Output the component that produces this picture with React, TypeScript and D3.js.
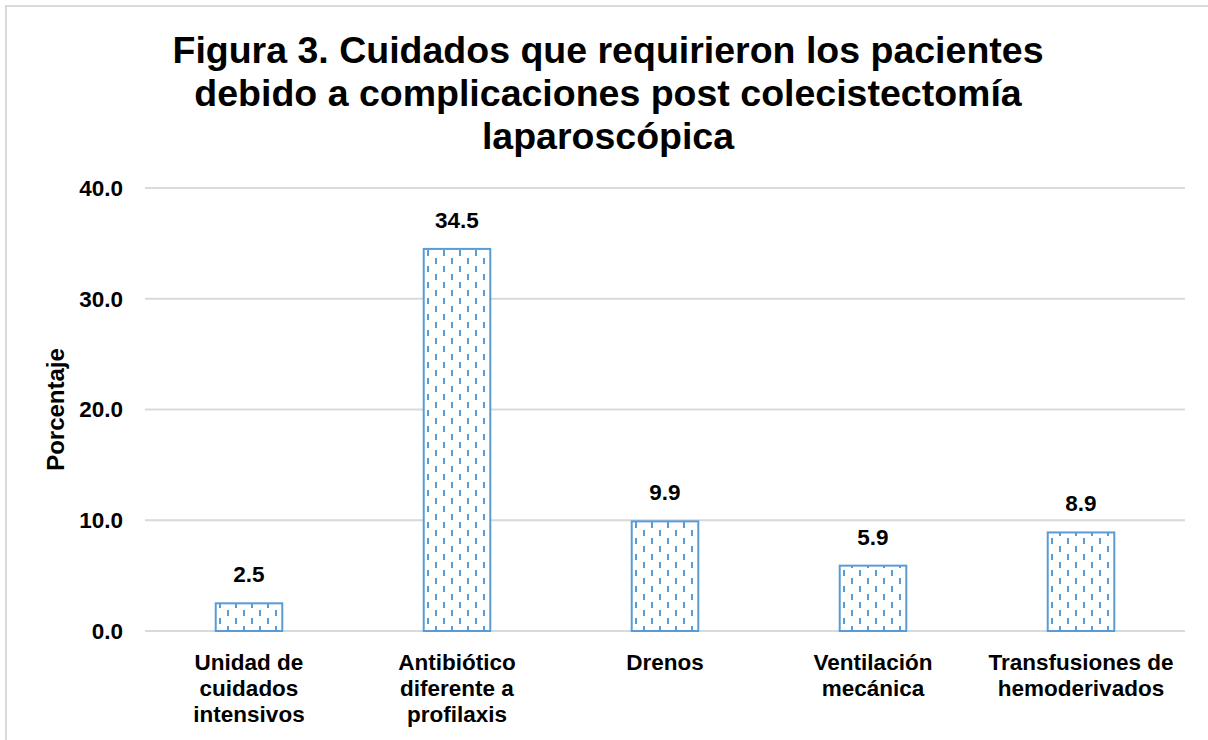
import { useRef, useEffect } from "react";
import * as d3 from "d3";

const categories = [
  ["Unidad de", "cuidados", "intensivos"],
  ["Antibiótico", "diferente a", "profilaxis"],
  ["Drenos"],
  ["Ventilación", "mecánica"],
  ["Transfusiones de", "hemoderivados"],
];
const values = [2.5, 34.5, 9.9, 5.9, 8.9];
const yTicks = [0, 10, 20, 30, 40];
const titleLines = [
  "Figura 3. Cuidados que requirieron los pacientes",
  "debido a complicaciones post colecistectomía",
  "laparoscópica",
];

const App = () => {
  const svgRef = useRef<SVGSVGElement>(null);

  useEffect(() => {
    const svg = d3.select(svgRef.current);
    svg.selectAll("*").remove();

    const width = 1208;
    const height = 740;
    const margin = { top: 188, right: 23, bottom: 109, left: 145 };
    const font = "Liberation Sans, Arial, sans-serif";
    const blue = "#5b9bd5";

    // frame
    svg
      .append("rect")
      .attr("x", 6)
      .attr("y", 6)
      .attr("width", width + 10)
      .attr("height", height + 10)
      .attr("fill", "#fff")
      .attr("stroke", "#d9d9d9")
      .attr("stroke-width", 2);

    // dashed pattern
    const pat = svg
      .append("defs")
      .append("pattern")
      .attr("id", "dashes")
      .attr("patternUnits", "userSpaceOnUse")
      .attr("width", 16)
      .attr("height", 16);
    pat.append("rect").attr("width", 16).attr("height", 16).attr("fill", "#fff");
    pat
      .append("rect")
      .attr("x", 3)
      .attr("y", 2)
      .attr("width", 2)
      .attr("height", 6)
      .attr("fill", blue);
    pat
      .append("rect")
      .attr("x", 11)
      .attr("y", 10)
      .attr("width", 2)
      .attr("height", 6)
      .attr("fill", blue);

    const x = d3
      .scaleBand()
      .domain(categories.map((_, i) => String(i)))
      .range([margin.left, width - margin.right])
      .paddingInner(0.68)
      .paddingOuter(0.34);
    const y = d3
      .scaleLinear()
      .domain([0, 40])
      .range([height - margin.bottom, margin.top]);

    // title
    svg
      .append("text")
      .attr("text-anchor", "middle")
      .attr("font-family", font)
      .attr("font-weight", "bold")
      .attr("font-size", 37.5)
      .attr("fill", "#000")
      .selectAll("tspan")
      .data(titleLines)
      .join("tspan")
      .attr("x", 608)
      .attr("y", (_, i) => 63 + i * 43)
      .text((d) => d);

    // grid
    svg
      .append("g")
      .selectAll("line")
      .data(yTicks)
      .join("line")
      .attr("x1", margin.left)
      .attr("x2", width - margin.right)
      .attr("y1", (d) => y(d))
      .attr("y2", (d) => y(d))
      .attr("stroke", "#d9d9d9")
      .attr("stroke-width", 2);

    svg
      .append("g")
      .selectAll("text")
      .data(yTicks)
      .join("text")
      .attr("x", 123)
      .attr("y", (d) => y(d))
      .attr("dy", "0.35em")
      .attr("text-anchor", "end")
      .attr("font-family", font)
      .attr("font-weight", "bold")
      .attr("font-size", 22.5)
      .text((d) => d.toFixed(1));

    svg
      .append("text")
      .attr("transform", `translate(64,${y(20)}) rotate(-90)`)
      .attr("text-anchor", "middle")
      .attr("font-family", font)
      .attr("font-weight", "bold")
      .attr("font-size", 24)
      .text("Porcentaje");

    // bars
    svg
      .append("g")
      .selectAll("rect")
      .data(values)
      .join("rect")
      .attr("x", (_, i) => x(String(i))!)
      .attr("y", (d) => y(d))
      .attr("width", x.bandwidth())
      .attr("height", (d) => y(0) - y(d))
      .attr("fill", "url(#dashes)")
      .attr("stroke", blue)
      .attr("stroke-width", 2);

    svg
      .append("g")
      .selectAll("text")
      .data(values)
      .join("text")
      .attr("x", (_, i) => x(String(i))! + x.bandwidth() / 2)
      .attr("y", (d) => y(d) - 21)
      .attr("text-anchor", "middle")
      .attr("font-family", font)
      .attr("font-weight", "bold")
      .attr("font-size", 22.5)
      .text((d) => d.toFixed(1));

    // category labels
    const cat = svg
      .append("g")
      .selectAll("text")
      .data(categories)
      .join("text")
      .attr("text-anchor", "middle")
      .attr("font-family", font)
      .attr("font-weight", "bold")
      .attr("font-size", 22.5);
    cat
      .selectAll("tspan")
      .data((d, i) => d.map((line) => ({ line, i })))
      .join("tspan")
      .attr("x", (d) => x(String(d.i))! + x.bandwidth() / 2)
      .attr("y", (_, j) => 670 + j * 26)
      .text((d) => d.line);
  }, []);

  return (
    <svg
      ref={svgRef}
      width={1208}
      height={740}
      style={{ position: "absolute", left: 0, top: 0 }}
    ></svg>
  );
};

export default App;
